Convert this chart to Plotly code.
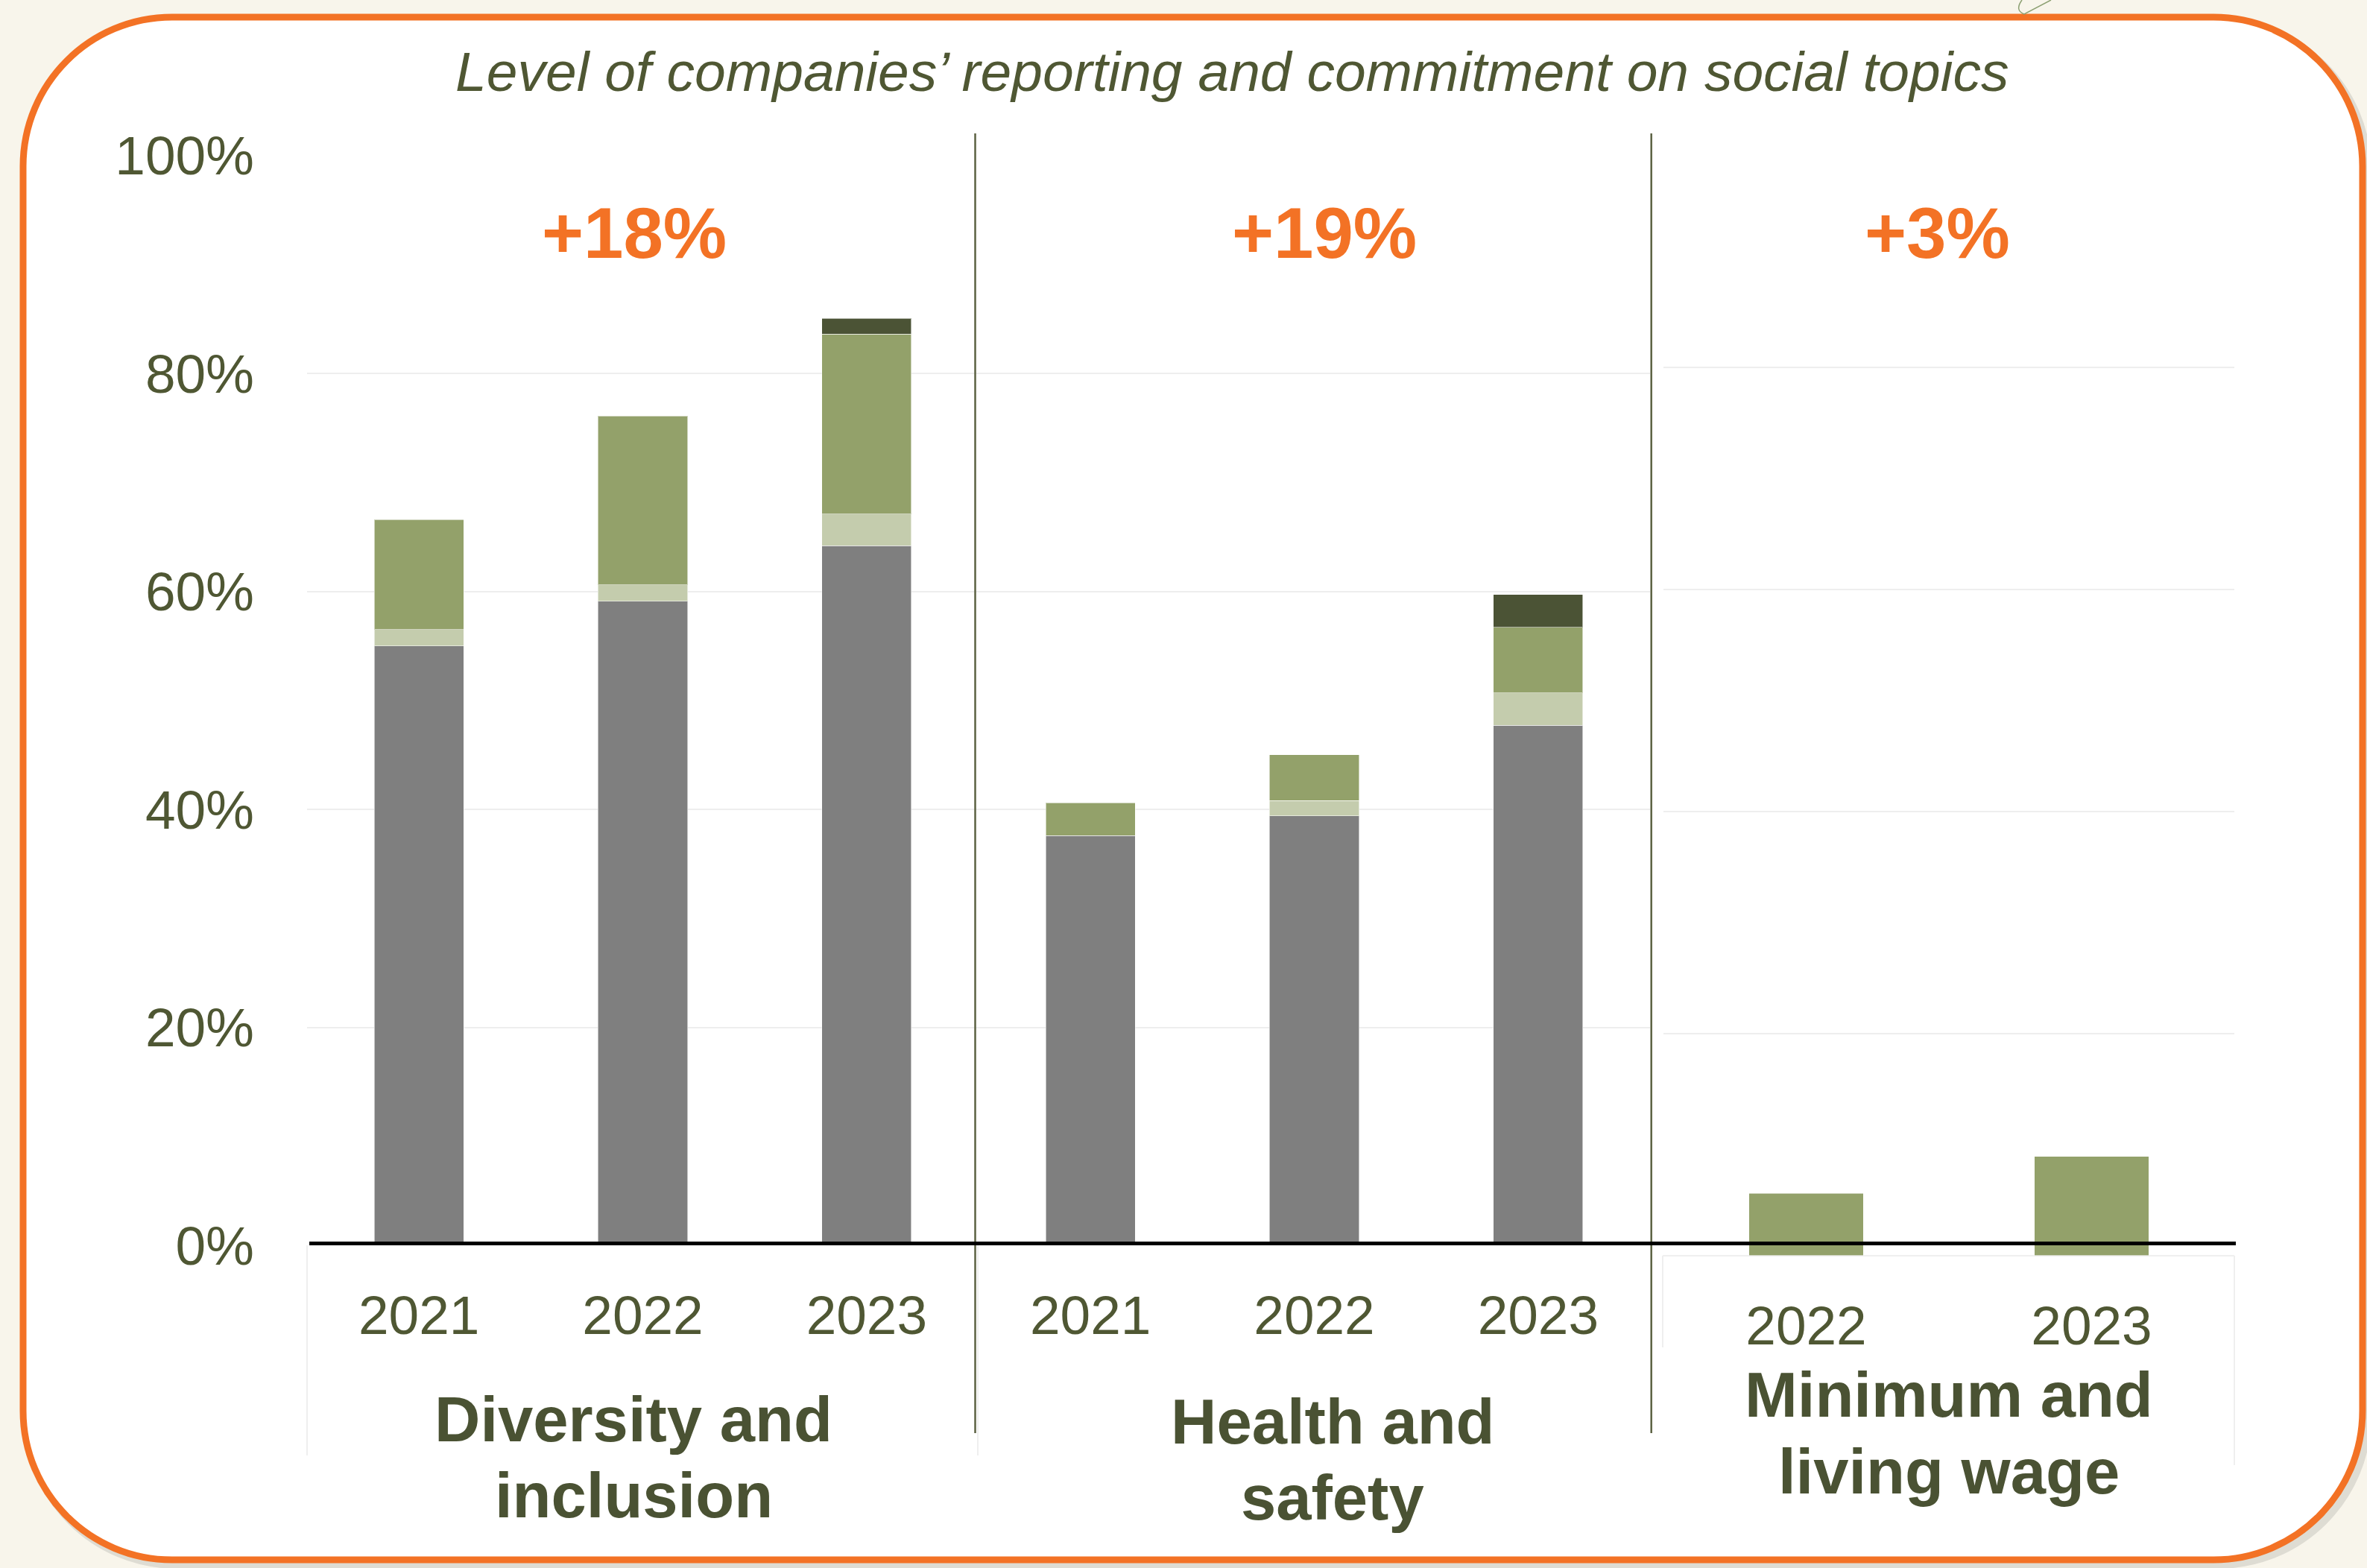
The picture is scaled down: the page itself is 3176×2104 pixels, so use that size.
import plotly.graph_objects as go

# ---- data -------------------------------------------------------------
topics_main = ["Diversity and inclusion", "Health and safety"]
years_main = ["2021", "2022", "2023"]
topic_wage = "Minimum and living wage"
years_wage = ["2022", "2023"]

# stacked segments (% of companies), order: D&I 2021-2023, H&S 2021-2023
seg_reporting = [55.0, 59.1, 64.2, 37.6, 39.4, 47.7]
seg_partial = [1.5, 1.5, 2.9, None, 1.4, 3.0]
seg_commitment = [10.1, 15.5, 16.5, 3.0, 4.2, 6.0]
seg_target = [None, None, 1.45, None, None, 3.0]

# minimum and living wage
wage_commitment = [5.6, 8.9]

changes = ["+18%", "+19%", "+3%"]
group_lines = [["Diversity and", "inclusion"], ["Health and", "safety"], ["Minimum and", "living wage"]]
title_text = "Level of companies’ reporting and commitment on social topics"

y_ticks = [0, 20, 40, 60, 80, 100]
y_tick_text = [f"{v}%" for v in y_ticks]

# ---- styling ----------------------------------------------------------
W, H = 3176, 2104
FONT = "Liberation Sans, Arial, sans-serif"
OLIVE = "#4F5733"
OLIVE_DARK = "#4A5233"
ORANGE = "#F37225"
C_GRAY = "#7F7F7F"
C_LIGHT = "#C4CCAD"
C_GREEN = "#93A16A"
C_DARK = "#4B5335"
GRID = "#EEEEEE"


def px(x):
    return x / W


def py(y):
    return 1 - y / H


def rounded_path(x0, y0, x1, y1, r):
    k = 0.5523 * r
    pts = [
        ("M", [(x0 + r, y0)]),
        ("L", [(x1 - r, y0)]),
        ("C", [(x1 - r + k, y0), (x1, y0 + r - k), (x1, y0 + r)]),
        ("L", [(x1, y1 - r)]),
        ("C", [(x1, y1 - r + k), (x1 - r + k, y1), (x1 - r, y1)]),
        ("L", [(x0 + r, y1)]),
        ("C", [(x0 + r - k, y1), (x0, y1 - r + k), (x0, y1 - r)]),
        ("L", [(x0, y0 + r)]),
        ("C", [(x0, y0 + r - k), (x0 + r - k, y0), (x0 + r, y0)]),
    ]
    out = []
    for cmd, coords in pts:
        out.append(cmd + " " + " ".join(f"{px(a):.5f},{py(b):.5f}" for a, b in coords))
    return " ".join(out) + " Z"


cat_ids = [f"{t} {y}" for t in topics_main for y in years_main]
cat_text = years_main * len(topics_main)

fig = go.Figure()

line_style = dict(color="rgba(255,255,255,0.55)", width=1)
for name, vals, col in [
    ("Reporting", seg_reporting, C_GRAY),
    ("Partial reporting", seg_partial, C_LIGHT),
    ("Commitment", seg_commitment, C_GREEN),
    ("Time-bound target", seg_target, C_DARK),
]:
    fig.add_trace(go.Bar(x=cat_ids, y=vals, name=name, marker=dict(color=col, line=line_style),
                         xaxis="x", yaxis="y", showlegend=False, hoverinfo="x+y+name"))

fig.add_trace(go.Bar(x=years_wage, y=wage_commitment, name="Commitment",
                     marker=dict(color=C_GREEN, line=line_style),
                     xaxis="x2", yaxis="y2", showlegend=False))

# ---- frame, separators, baseline -------------------------------------
shapes = []
# soft shadow under the frame
shapes.append(dict(type="path", xref="paper", yref="paper", layer="below",
                   path=rounded_path(37, 30, 3176, 2099, 200),
                   line=dict(color="rgba(0,0,0,0.10)", width=12)))
shapes.append(dict(type="path", xref="paper", yref="paper", layer="below",
                   path=rounded_path(31, 23, 3170, 2093, 200),
                   fillcolor="white", line=dict(color=ORANGE, width=9)))
# small ornament above the frame
shapes.append(dict(type="path", xref="paper", yref="paper", layer="below",
                   path=f"M {px(2713):.5f},{py(0):.5f} Q {px(2703):.5f},{py(14):.5f} {px(2716):.5f},{py(19):.5f} L {px(2752):.5f},{py(0):.5f}",
                   line=dict(color="#8CA072", width=1.5)))
# faint category boundaries
for x, y0, y1 in [(412, 1671, 1953), (1312, 1671, 1953), (2231, 1685, 1808), (2998, 1685, 1966)]:
    shapes.append(dict(type="line", xref="paper", yref="paper", layer="below",
                       x0=px(x), x1=px(x), y0=py(y0), y1=py(y1),
                       line=dict(color="#EFEFEF", width=2)))
shapes.append(dict(type="line", xref="paper", yref="paper", layer="below",
                   x0=px(2231), x1=px(2998), y0=py(1685), y1=py(1685),
                   line=dict(color="#EFEFEF", width=2)))
# group separators
for x in [1308.5, 2215.7]:
    shapes.append(dict(type="line", xref="paper", yref="paper", layer="above",
                       x0=px(x), x1=px(x), y0=py(179), y1=py(1923),
                       line=dict(color="#5B6142", width=2.5)))
# baseline
shapes.append(dict(type="line", xref="paper", yref="paper", layer="above",
                   x0=px(415), x1=px(3000), y0=py(1668.5), y1=py(1668.5),
                   line=dict(color="black", width=5)))

# ---- text -------------------------------------------------------------
annotations = [dict(text=title_text, x=px(1653), y=py(96), xref="paper", yref="paper",
                    showarrow=False, xanchor="center", yanchor="middle",
                    font=dict(family=FONT, size=75, color=OLIVE, style="italic"))]
for txt, x in zip(changes, [851, 1777, 2599]):
    annotations.append(dict(text=f"<b>{txt}</b>", x=px(x), y=py(312), xref="paper", yref="paper",
                            showarrow=False, xanchor="center", yanchor="middle",
                            font=dict(family=FONT, size=96, color=ORANGE)))
# two-line group labels; y gives the middle of each line's capitals
for lines, x, ys in zip(group_lines, [850, 1788, 2615],
                        [(1904, 2006), (1907, 2009), (1871, 1974)]):
    for txt, y in zip(lines, ys):
        annotations.append(dict(text=f"<b>{txt}</b>", x=px(x), y=py(y), xref="paper", yref="paper",
                                showarrow=False, xanchor="center", yanchor="middle",
                                font=dict(family=FONT, size=85, color=OLIVE_DARK)))

tickfont = dict(family=FONT, size=73, color=OLIVE)

fig.update_layout(
    width=W, height=H,
    autosize=False,
    margin=dict(l=0, r=0, t=0, b=0, pad=0, autoexpand=False),
    paper_bgcolor="#F8F5EB",
    plot_bgcolor="rgba(0,0,0,0)",
    barmode="stack",
    bargap=0.6,
    showlegend=False,
    shapes=shapes,
    annotations=annotations,
    xaxis=dict(domain=[px(412), px(2214)], type="category", categoryorder="array",
               categoryarray=cat_ids, tickvals=cat_ids, ticktext=cat_text,
               tickfont=tickfont, ticks="", showgrid=False, showline=False, zeroline=False,
               ticklabelstandoff=45, anchor="y", automargin=False),
    yaxis=dict(domain=[py(1671), py(208.6)], range=[0, 100], tickmode="array",
               tickvals=y_ticks, ticktext=y_tick_text,
               tickfont=tickfont, ticks="", showgrid=True, gridcolor=GRID, gridwidth=2,
               zeroline=False, showline=False, ticklabelstandoff=70, anchor="x", automargin=False),
    xaxis2=dict(domain=[px(2232), px(2998)], type="category", categoryorder="array",
                categoryarray=years_wage, tickfont=tickfont, ticks="", showgrid=False,
                showline=False, zeroline=False, ticklabelstandoff=45, anchor="y2", automargin=False),
    yaxis2=dict(domain=[py(1684.5), py(195.5)], range=[0, 100], tickvals=y_ticks,
                showticklabels=False, ticks="", showgrid=True, gridcolor=GRID, gridwidth=2,
                zeroline=False, showline=False, anchor="x2", automargin=False),
)

fig.write_html("out.html")
